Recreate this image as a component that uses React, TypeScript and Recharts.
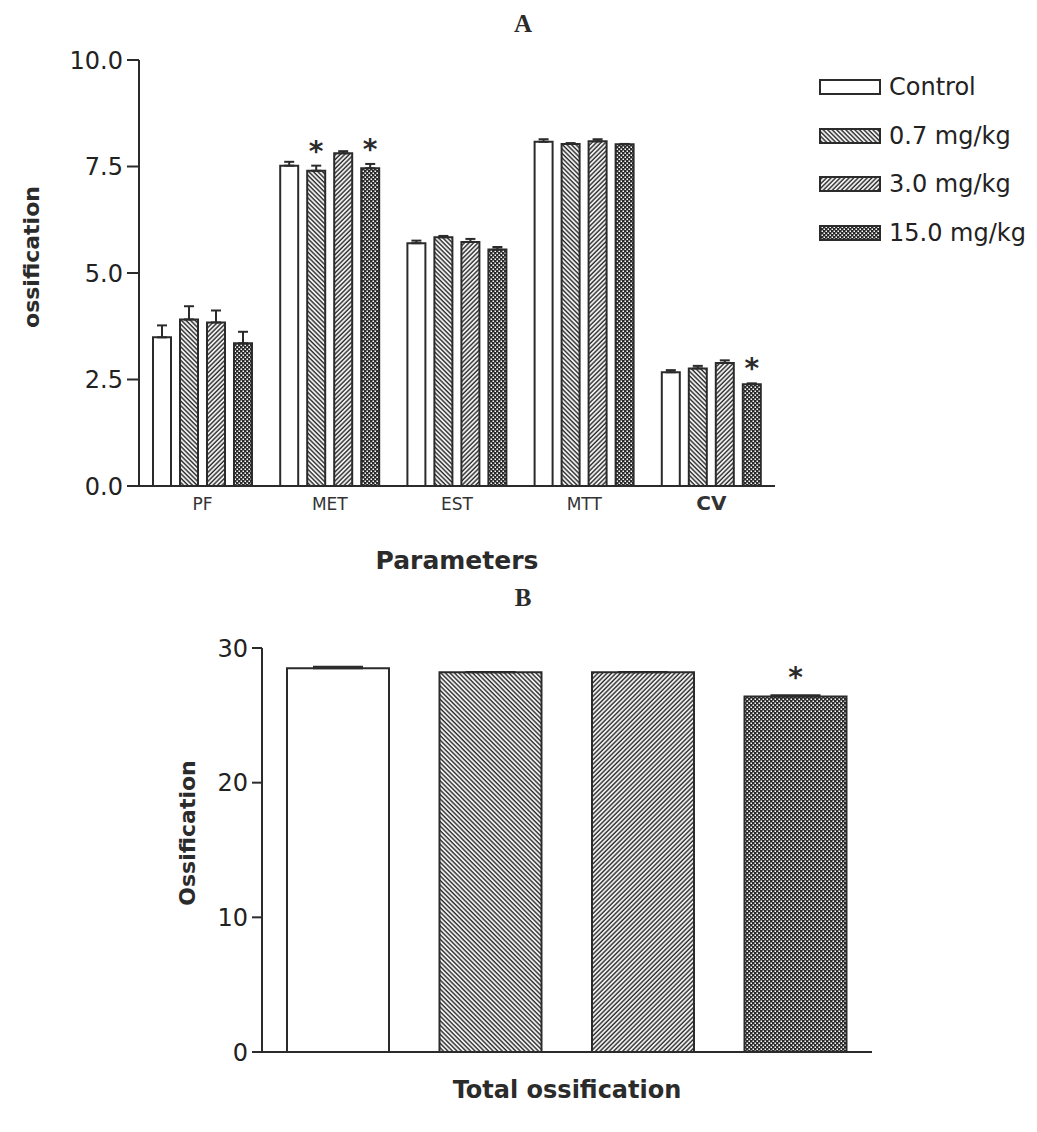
import React from "react"
import { BarChart, Bar, XAxis, YAxis, ErrorBar, LabelList, Cell } from "recharts"

const params = ["PF", "MET", "EST", "MTT", "CV"]
const control = [3.49, 7.52, 5.7, 8.08, 2.67]
const controlErr = [0.28, 0.09, 0.06, 0.06, 0.05]
const dose07 = [3.91, 7.4, 5.84, 8.03, 2.76]
const dose07Err = [0.31, 0.12, 0.03, 0.02, 0.06]
const dose30 = [3.84, 7.81, 5.73, 8.09, 2.89]
const dose30Err = [0.28, 0.05, 0.07, 0.05, 0.06]
const dose150 = [3.35, 7.46, 5.55, 8.02, 2.39]
const dose150Err = [0.27, 0.1, 0.06, 0.01, 0.02]
const sig07 = [false, true, false, false, false]
const sig150 = [false, true, false, false, true]

const groups = ["Control", "0.7 mg/kg", "3.0 mg/kg", "15.0 mg/kg"]
const totals = [28.5, 28.2, 28.2, 26.4]
const totalErr = [0.1, 0.02, 0.02, 0.1]
const totalSig = [false, false, false, true]

const yTicksA = [0, 2.5, 5, 7.5, 10]
const yTicksB = [0, 10, 20, 30]

const fills = ["#fff", "url(#pat07)", "url(#pat30)", "url(#pat150)"]

const dataA = params.map((p, i) => ({
  param: p,
  control: control[i],
  controlErr: [0, controlErr[i]],
  dose07: dose07[i],
  dose07Err: [0, dose07Err[i]],
  dose30: dose30[i],
  dose30Err: [0, dose30Err[i]],
  dose150: dose150[i],
  dose150Err: [0, dose150Err[i]],
}))

const dataB = groups.map((g, i) => ({ group: g, total: totals[i], err: [0, totalErr[i]] }))

const FONT = "'DejaVu Sans', sans-serif"
const INK = "#2b2b2b"

function starLabel(sig: boolean[], errs: number[], lift: number) {
  return (props: any) => {
    const { x, y, width, height, value, index } = props
    if (!sig[index]) return null
    const errPx = (errs[index] * height) / value
    return (
      <text x={x + width / 2} y={y - errPx - lift} textAnchor="middle" fontSize={28} fontWeight="bold" fontFamily={FONT} fill={INK}>
        *
      </text>
    )
  }
}

function ParamTick(props: any) {
  const { x, y, payload } = props
  const bold = payload.value === "CV"
  return (
    <text x={x} y={y + 16} textAnchor="middle" fontSize={bold ? 20 : 17} fontWeight={bold ? "bold" : "normal"} fontFamily={FONT} fill="#333">
      {payload.value}
    </text>
  )
}

function Patterns() {
  return (
    <svg width={0} height={0} style={{ position: "absolute" }}>
      <defs>
        <pattern id="pat07" width={3.2} height={3.2} patternUnits="userSpaceOnUse" patternTransform="rotate(-45)">
          <rect width={3.2} height={3.2} fill="#fff" />
          <line x1={1} y1={0} x2={1} y2={3.2} stroke="#2b2b2b" strokeWidth={1.5} />
        </pattern>
        <pattern id="pat30" width={3.2} height={3.2} patternUnits="userSpaceOnUse" patternTransform="rotate(45)">
          <rect width={3.2} height={3.2} fill="#fff" />
          <line x1={1} y1={0} x2={1} y2={3.2} stroke="#2b2b2b" strokeWidth={1.5} />
        </pattern>
        <pattern id="pat150" width={4} height={4} patternUnits="userSpaceOnUse">
          <rect width={4} height={4} fill="#2a2a2a" />
          <rect x={0.5} y={0.5} width={1.5} height={1.5} fill="#fff" />
          <rect x={2.5} y={2.5} width={1.5} height={1.5} fill="#fff" />
        </pattern>
      </defs>
    </svg>
  )
}

const series = [
  { key: "control", err: "controlErr", name: "Control", sig: [false, false, false, false, false], errs: controlErr },
  { key: "dose07", err: "dose07Err", name: "0.7 mg/kg", sig: sig07, errs: dose07Err },
  { key: "dose30", err: "dose30Err", name: "3.0 mg/kg", sig: [false, false, false, false, false], errs: dose30Err },
  { key: "dose150", err: "dose150Err", name: "15.0 mg/kg", sig: sig150, errs: dose150Err },
]

const tickStyle = { fontSize: 24, fontFamily: FONT, fill: "#222" }

export default function App() {
  return (
    <div style={{ position: "absolute", left: 0, top: 0, width: 1037, height: 1132, background: "#fff", fontFamily: FONT }}>
      <Patterns />
      <div style={{ position: "absolute", left: 0, width: 1037, top: 10, textAlign: "center", fontFamily: "'Liberation Serif', serif", fontWeight: "bold", fontSize: 25, color: INK, lineHeight: "28px", paddingLeft: 9, boxSizing: "border-box" }}>A</div>
      <div style={{ position: "absolute", left: 31, top: 257, transform: "translate(-50%, -50%) rotate(-90deg)", fontSize: 22, fontWeight: "bold", color: INK, whiteSpace: "nowrap" }}>ossification</div>
      <div style={{ position: "absolute", left: 457, top: 560, transform: "translate(-50%, -50%)", fontSize: 25, fontWeight: "bold", color: INK, whiteSpace: "nowrap" }}>Parameters</div>

      <div style={{ position: "absolute", left: 0, top: 0 }}>
        <BarChart width={1037} height={600} data={dataA} margin={{ top: 60, right: 262, left: 79, bottom: 84 }} barSize={18} barGap={9}>
          <XAxis dataKey="param" height={30} tickLine={false} axisLine={{ stroke: INK, strokeWidth: 2 }} tick={<ParamTick />} interval={0} />
          <YAxis width={60} domain={[0, 10]} ticks={yTicksA} tickFormatter={(v) => Number(v).toFixed(1)} tickSize={12} tickMargin={4} tickLine={{ stroke: INK, strokeWidth: 2 }} axisLine={{ stroke: INK, strokeWidth: 2 }} tick={tickStyle} />
          {series.map((s, i) => (
            <Bar key={s.key} dataKey={s.key} name={s.name} fill={fills[i]} stroke={INK} strokeWidth={2} isAnimationActive={false}>
              <ErrorBar dataKey={s.err} width={5} stroke={INK} strokeWidth={2} direction="y" />
              <LabelList dataKey={s.key} content={starLabel(s.sig, s.errs, 5)} />
            </Bar>
          ))}
        </BarChart>
      </div>

      {series.map((s, i) => (
        <div key={s.key} style={{ position: "absolute", left: 819, top: 87 + i * 48.7, transform: "translateY(-50%)", display: "flex", alignItems: "center" }}>
          <svg width={62} height={18}>
            <rect x={1} y={2} width={60} height={14} fill={fills[i]} stroke={INK} strokeWidth={2} />
          </svg>
          <span style={{ marginLeft: 8, fontSize: 24, color: "#222", whiteSpace: "nowrap" }}>{s.name}</span>
        </div>
      ))}

      <div style={{ position: "absolute", left: 0, width: 1037, top: 584, textAlign: "center", fontFamily: "'Liberation Serif', serif", fontWeight: "bold", fontSize: 25, color: INK, lineHeight: "28px", paddingLeft: 9, boxSizing: "border-box" }}>B</div>
      <div style={{ position: "absolute", left: 187, top: 833, transform: "translate(-50%, -50%) rotate(-90deg)", fontSize: 22, fontWeight: "bold", color: INK, whiteSpace: "nowrap" }}>Ossification</div>
      <div style={{ position: "absolute", left: 567, top: 1090, transform: "translate(-50%, -50%)", fontSize: 24, fontWeight: "bold", color: INK, whiteSpace: "nowrap" }}>Total ossification</div>

      <div style={{ position: "absolute", left: 0, top: 600 }}>
        <BarChart width={1037} height={532} data={dataB} margin={{ top: 48, right: 165, left: 192, bottom: 50 }} barSize={102}>
          <XAxis dataKey="group" height={30} tick={false} tickLine={false} axisLine={{ stroke: INK, strokeWidth: 2 }} />
          <YAxis width={70} domain={[0, 30]} ticks={yTicksB} tickSize={10} tickMargin={4} tickLine={{ stroke: INK, strokeWidth: 2 }} axisLine={{ stroke: INK, strokeWidth: 2 }} tick={tickStyle} />
          <Bar dataKey="total" stroke={INK} strokeWidth={2} isAnimationActive={false}>
            {dataB.map((d, i) => (
              <Cell key={d.group} fill={fills[i]} />
            ))}
            <ErrorBar dataKey="err" width={25} stroke={INK} strokeWidth={2} direction="y" />
            <LabelList dataKey="total" content={starLabel(totalSig, totalErr, 8)} />
          </Bar>
        </BarChart>
      </div>
    </div>
  )
}
